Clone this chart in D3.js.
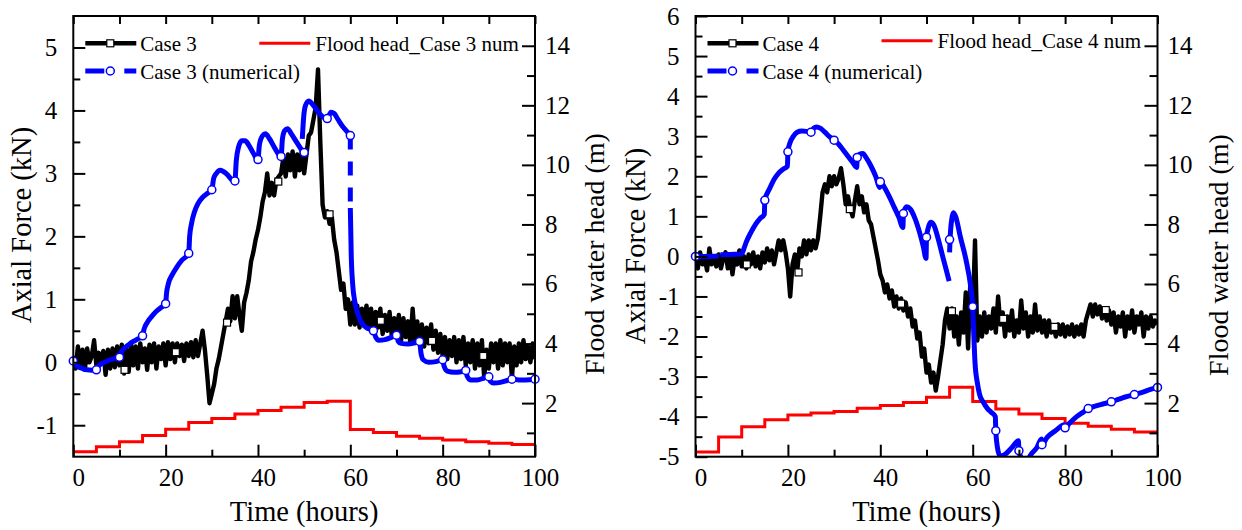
<!DOCTYPE html>
<html>
<head>
<meta charset="utf-8">
<script src="https://d3js.org/d3.v7.min.js"></script>
<style>
  body { margin: 0; background: #fff; }
  text { font-family: "Liberation Serif", "Times New Roman", serif; fill: #000; }
</style>
</head>
<body>
<svg width="1242" height="530"></svg>
<script>
// ---------- values ----------
var timeMajor = [0, 20, 40, 60, 80, 100],
    timeMinor = [10, 30, 50, 70, 90],
    headMajor = [2, 4, 6, 8, 10, 12, 14],
    headMinor = [1, 3, 5, 7, 9, 11, 13],
    force3Major = [-1, 0, 1, 2, 3, 4, 5],
    force3Minor = [-0.5, 0.5, 1.5, 2.5, 3.5, 4.5],
    force4Major = [-5, -4, -3, -2, -1, 0, 1, 2, 3, 4, 5, 6],
    force4Minor = [-4.5, -3.5, -2.5, -1.5, -0.5, 0.5, 1.5, 2.5, 3.5, 4.5, 5.5];

// flood water head (m), stepped every 5 hours
var floodTimes = [0, 5, 10, 15, 20, 25, 30, 35, 40, 45, 50, 55, 60, 65, 70, 75, 80, 85, 90, 95, 100];
var flood3 = [0.37, 0.53, 0.70, 0.91, 1.12, 1.35, 1.48, 1.63, 1.75, 1.86, 2.02, 2.06,
              1.11, 1.01, 0.89, 0.82, 0.76, 0.70, 0.65, 0.61, 0.61];
var flood4 = [0.36, 0.86, 1.21, 1.44, 1.60, 1.67, 1.72, 1.83, 1.92, 2.02, 2.20, 2.53,
              2.05, 1.80, 1.63, 1.48, 1.32, 1.22, 1.12, 1.03, 1.03];

// measured axial force (kN), one reading every half hour from 0 to 100 h
var expStep = 0.5;
var case3 = [
  0.1, -0.1, 0.25, -0.05, 0.2, -0.12, 0.22, 0.0, 0.1, 0.35,
  -0.05, 0.15, 0.0, 0.18, -0.2, 0.2, -0.1, 0.22, -0.08, 0.25,
  -0.05, 0.28, -0.18, 0.2, -0.15, 0.3, -0.05, 0.25, -0.1, 0.3,
  0.0, 0.22, -0.12, 0.28, 0.0, 0.3, -0.1, 0.25, 0.05, 0.3,
  -0.05, 0.32, 0.05, 0.3, 0.0, 0.3, 0.1, 0.28, 0.02, 0.3,
  0.1, 0.32, 0.08, 0.35, 0.1, 0.3, 0.5, 0.2, -0.2, -0.65,
  -0.5, -0.35, -0.1, 0.05, 0.25, 0.45, 0.65, 0.85, 0.65, 1.05,
  0.7, 1.05, 0.75, 0.5, 0.95, 1.1, 1.3, 1.6, 1.75, 1.95,
  2.1, 2.3, 2.55, 2.7, 3.0, 2.65, 2.85, 2.65, 2.9, 2.95,
  3.0, 3.25, 2.95, 3.3, 3.05, 3.35, 2.95, 3.3, 3.05, 3.35,
  3.0, 3.3, 3.6, 3.65, 3.85, 4.05, 4.65, 3.5, 2.5, 2.3,
  2.4, 2.2, 2.3, 1.95, 1.75, 1.45, 1.15, 1.25, 0.85, 1.0,
  0.6, 0.95, 0.6, 0.9, 0.55, 0.85, 0.6, 0.9, 0.55, 0.85,
  0.5, 0.8, 0.55, 0.85, 0.45, 0.75, 0.5, 0.8, 0.4, 0.7,
  0.45, 0.75, 0.35, 0.7, 0.4, 0.65, 0.3, 0.85, 0.35, 0.65,
  0.3, 0.6, 0.25, 0.55, 0.3, 0.6, 0.2, 0.5, 0.15, 0.45,
  0.1, 0.4, 0.05, 0.35, 0.1, 0.4, 0.0, 0.35, 0.05, 0.4,
  -0.05, 0.3, 0.0, 0.35, -0.1, 0.3, -0.05, 0.35, -0.25, 0.2,
  -0.1, 0.3, 0.0, 0.3, -0.1, 0.35, -0.05, 0.3, 0.0, 0.3,
  -0.25, 0.25, -0.05, 0.3, 0.0, 0.35, 0.05, 0.25, 0.0, 0.3,
  0.05
];
var case4 = [
  0.0, -0.3, 0.1, -0.2, -0.05, -0.35, 0.2, -0.2, 0.0, -0.25,
  0.05, -0.3, -0.05, 0.1, -0.3, 0.05, -0.45, 0.0, -0.2, 0.15,
  -0.25, 0.0, -0.3, 0.05, -0.2, 0.1, -0.25, 0.0, -0.3, 0.1,
  -0.15, 0.2, -0.1, 0.15, -0.2, 0.1, 0.4, 0.15, 0.4, 0.1,
  -0.3, -1.0, -0.2, 0.05, -0.4, 0.2, 0.0, 0.4, 0.05, 0.4,
  0.15, 0.4, 0.2, 0.45, 1.0, 1.6, 1.8, 1.6, 2.0, 1.75,
  2.0, 1.8, 1.95, 2.2, 1.8, 1.3, 1.5, 1.2, 1.0, 1.4,
  1.75, 1.3, 1.5, 1.1, 1.3, 0.9, 0.8, 0.5, 0.2, -0.1,
  -0.45, -0.6, -0.9, -0.7, -1.05, -0.85, -1.25, -1.0, -1.3, -1.05,
  -1.35, -1.15, -1.5, -1.3, -1.75, -1.6, -2.05, -1.9, -2.5, -2.3,
  -2.9, -2.7, -3.15, -2.9, -3.35, -3.0, -2.6, -2.2, -1.6, -1.3,
  -1.8, -1.3, -2.0, -1.5, -2.2, -1.4, -1.9, -0.9, -2.3, -0.6,
  -1.5, 0.4, -2.1, -1.5, -2.0, -1.4, -1.9, -1.5, -1.8, -1.3,
  -1.9, -1.0, -1.7, -1.4, -2.0, -1.5, -1.85, -1.35, -2.0, -1.6,
  -1.9, -1.1, -1.8, -1.4, -2.0, -1.5, -1.9, -1.2, -1.85, -1.5,
  -1.9, -1.6, -2.0, -1.6, -1.9, -1.75, -2.0, -1.7, -1.95, -1.7,
  -2.0, -1.75, -1.95, -1.7, -2.0, -1.75, -1.95, -1.7, -2.0, -1.6,
  -1.4, -1.2, -1.5, -1.2, -1.45, -1.25, -1.55, -1.3, -1.6, -1.35,
  -1.7, -1.4, -1.9, -1.5, -1.75, -1.4, -2.0, -1.5, -1.8, -1.35,
  -1.9, -1.5, -1.7, -1.4, -2.0, -1.5, -1.8, -1.5, -1.75, -1.6,
  -1.7
];
var case3Marks = [[11.1, -0.12], [22.2, 0.16], [33.3, 0.63], [44.4, 2.87], [55.5, 2.35], [66.6, 0.66], [77.7, 0.34], [88.8, 0.1]];
var case4Marks = [[11.1, -0.2], [22.3, -0.4], [33.4, 1.18], [44.5, -1.18], [55.5, -1.37], [66.6, -1.56], [77.7, -1.76], [88.8, -1.34]];

// numerical axial force (kN); null = break in the curve
var num3 = [
  [0, 0.0], [1, -0.07], [2, -0.1], [3, -0.12], [4, -0.125], [5, -0.12],
  [5.5, -0.06], [6.5, -0.01], [8, 0.04], [9.5, 0.07], [10, 0.08],
  [10.3, 0.15], [11, 0.22], [12, 0.28], [13, 0.33], [14, 0.37], [15, 0.42],
  [15.3, 0.52], [16, 0.63], [17, 0.73], [18, 0.81], [19, 0.87], [20, 0.93],
  [20.2, 1.1], [20.6, 1.25], [21.5, 1.4], [22.5, 1.52], [23.5, 1.62], [25, 1.73],
  [25.2, 2.0], [25.6, 2.2], [26.3, 2.4], [27, 2.52], [28, 2.62], [29, 2.68], [30, 2.74],
  [30.4, 2.92], [31, 3.0], [31.8, 3.05], [32.5, 3.03], [33.5, 2.97], [34.3, 2.9], [35, 2.88],
  [35.3, 3.2], [35.8, 3.42], [36.5, 3.52], [37.2, 3.52], [38, 3.45], [39, 3.32], [40, 3.22],
  [40.3, 3.45], [41, 3.6], [41.6, 3.63], [42.5, 3.55], [43.5, 3.42], [44.5, 3.3], [45, 3.27],
  [45.3, 3.55], [45.8, 3.68], [46.4, 3.71], [47.3, 3.62], [48.5, 3.48], [49.5, 3.37], [50, 3.33],
  null,
  [49.6, 3.55], [49.9, 3.9], [50.3, 4.08], [51, 4.15], [52, 4.08], [53, 3.98], [54, 3.9], [55, 3.87],
  [55.8, 3.97], [56.5, 3.95], [57.3, 3.86], [58.3, 3.75], [59.2, 3.67], [60, 3.6],
  null,
  [60, 2.45], [60.2, 1.7], [60.5, 1.25], [61, 0.95], [61.7, 0.75], [62.5, 0.62], [63.5, 0.55], [65, 0.5],
  [65.5, 0.4], [66.2, 0.35], [67.5, 0.36], [69, 0.4], [70, 0.43],
  [70.4, 0.33], [71, 0.3], [72.5, 0.29], [74, 0.31], [75, 0.33],
  [75.3, 0.15], [75.8, 0.04], [77, 0.0], [78.5, 0.01], [80, 0.04],
  [80.3, -0.06], [81, -0.14], [82.5, -0.16], [84, -0.15], [85, -0.13],
  [85.3, -0.22], [86, -0.28], [87.5, -0.28], [89, -0.25], [90, -0.23],
  [90.3, -0.3], [91, -0.33], [92.5, -0.32], [94, -0.29], [95, -0.27],
  [96.5, -0.28], [98, -0.28], [100, -0.27]
];
var num3Drop = [[60, 3.6], [60, 2.45]];
var num3Marks = [[0, 0.02], [5, -0.12], [10, 0.08], [15, 0.42], [20, 0.93], [25, 1.73], [30, 2.74],
  [35, 2.88], [40, 3.22], [45, 3.27], [50, 3.33], [55, 3.87], [60, 3.6], [65, 0.5], [70, 0.43],
  [75, 0.33], [80, 0.04], [85, -0.13], [90, -0.23], [95, -0.27], [100, -0.27]];

var num4 = [
  [0, 0], [2.5, 0], [5, 0.01], null, [5.4, 0.04], [7.5, 0.05], [10, 0.06],
  [10.5, 0.2], [11, 0.36], [12, 0.6], [13, 0.8], [14, 0.95], [14.9, 1.05],
  [15, 1.4], [16, 1.68], [17, 1.92], [18, 2.08], [19, 2.18], [19.9, 2.25],
  [20, 2.61], [20.5, 2.85], [21.2, 3.0], [22, 3.1], [23, 3.13], [24, 3.12], [25, 3.1],
  [25.6, 3.2], [26.2, 3.23], [27, 3.2], [28, 3.1], [29, 2.99], [30, 2.9],
  [31, 2.8], [32, 2.65], [33, 2.5], [34, 2.35], [34.9, 2.22],
  [35, 2.47], [35.5, 2.55], [36.2, 2.57], [37, 2.45], [38, 2.25], [39, 2.0], [39.9, 1.72],
  [40, 1.86], [40.5, 1.8], [41, 1.7], [42, 1.48], [43, 1.23], [44, 0.98], [44.9, 0.72],
  [45, 1.07], [45.7, 1.24], [46.5, 1.18], [47.5, 0.95], [48.5, 0.6], [49.3, 0.25], [49.9, -0.05],
  [50, 0.48], [50.4, 0.72], [50.9, 0.85], [51.6, 0.78], [52.5, 0.45], [53.5, 0.0], [54.3, -0.35], [54.9, -0.62],
  null,
  [55, 0.1], [55.1, 0.42], [55.5, 0.95], [55.8, 1.09], [56.3, 1.0], [57.3, 0.5], [58.7, -0.17], [59.5, -0.7], [60, -1.26],
  [60.2, -1.85], [60.5, -2.65], [61, -3.15], [61.5, -3.45], [62.3, -3.64], [63.2, -3.8], [64, -3.89], [64.9, -4.0],
  [65, -4.35], [65.4, -4.8], [65.9, -4.98], [67, -4.94], [68.5, -4.77], [69.9, -4.6],
  [70, -4.85], [70.6, -5.05], [71.5, -5.2], [72.4, -4.98], [73.9, -4.77], [74.9, -4.56],
  [75, -4.7], [76.1, -4.52], [77.9, -4.35], [79.9, -4.2],
  [80, -4.28], [81, -4.16], [82.5, -4.0], [84, -3.88], [85, -3.8],
  [86.5, -3.74], [88, -3.69], [90, -3.63], [91.5, -3.57], [93, -3.51], [95, -3.45],
  [96.5, -3.4], [98, -3.34], [100, -3.27]
];
var num4Marks = [[0, 0], [15, 1.4], [20, 2.61], [25, 3.1], [30, 2.9], [35, 2.47], [40, 1.86],
  [45, 1.07], [50, 0.48], [55, 0.42], [60, -1.26], [65, -4.35], [70, -4.85], [75, -4.7],
  [80, -4.28], [85, -3.8], [90, -3.63], [95, -3.45], [100, -3.27]];

// ---------- drawing ----------
var svg = d3.select("svg"),
    plotTop = 16,
    plotBottom = 456.7,
    headDomain = [0.2, 15],
    fontFam = '"Liberation Serif", "Times New Roman", serif';

function styleAxis(g) {
  g.select(".domain").remove();
  g.attr("font-family", fontFam).attr("font-size", 25);
  g.selectAll("line").attr("stroke-width", 2);
}

function panel(p) {
  var x = d3.scaleLinear().domain([0, 100]).range([p.left, p.right]),
      y = d3.scaleLinear().domain(p.forceDomain).range([plotBottom, plotTop]),
      yh = d3.scaleLinear().domain(headDomain).range([plotBottom, plotTop]);

  var g = svg.append("g");

  g.append("clipPath").attr("id", "clip" + p.id)
    .append("rect")
      .attr("x", p.left).attr("y", plotTop)
      .attr("width", p.right - p.left).attr("height", plotBottom - plotTop);

  var plot = g.append("g").attr("clip-path", "url(#clip" + p.id + ")");

  // flood head on the right axis
  plot.append("path")
      .datum(floodTimes.map(function(t, i) { return [t, p.flood[i]]; }))
      .attr("d", d3.line().curve(d3.curveStepAfter)
        .x(function(d) { return x(d[0]); })
        .y(function(d) { return yh(d[1]); }))
      .style("fill", "none")
      .style("stroke", "#ff0000")
      .style("stroke-width", "3px");

  // measured force
  plot.append("path")
      .datum(p.exp.map(function(v, i) { return [i * expStep, v]; }))
      .attr("d", d3.line()
        .x(function(d) { return x(d[0]); })
        .y(function(d) { return y(d[1]); }))
      .style("fill", "none")
      .style("stroke", "#000")
      .style("stroke-width", "4.4px")
      .style("stroke-linejoin", "round");

  // numerical force
  var numLine = d3.line()
      .defined(function(d) { return d !== null; })
      .curve(d3.curveMonotoneX)
      .x(function(d) { return x(d[0]); })
      .y(function(d) { return y(d[1]); });

  plot.append("path")
      .datum(p.num)
      .attr("d", numLine)
      .style("fill", "none")
      .style("stroke", "#0000ff")
      .style("stroke-width", "5px");

  if (p.numDrop) {
    plot.append("path")
        .datum(p.numDrop)
        .attr("d", d3.line()
          .x(function(d) { return x(d[0]); })
          .y(function(d) { return y(d[1]); }))
        .style("fill", "none")
        .style("stroke", "#0000ff")
        .style("stroke-width", "5px")
        .style("stroke-dasharray", "14,12");
  }

  g.selectAll(".sq")
    .data(p.expMarks)
    .enter().append("rect")
      .attr("x", function(d) { return x(d[0]) - 3.5; })
      .attr("y", function(d) { return y(d[1]) - 3.5; })
      .attr("width", 7).attr("height", 7)
      .style("fill", "#fff").style("stroke", "#000").style("stroke-width", "1.2px");

  g.selectAll(".dot")
    .data(p.numMarks)
    .enter().append("circle")
      .attr("cx", function(d) { return x(d[0]); })
      .attr("cy", function(d) { return y(d[1]); })
      .attr("r", 4)
      .style("fill", "#fff").style("stroke", "#0000ff").style("stroke-width", "1.5px");

  // frame
  g.append("rect")
      .attr("x", p.left).attr("y", plotTop)
      .attr("width", p.right - p.left).attr("height", plotBottom - plotTop)
      .style("fill", "none").style("stroke", "#000").style("stroke-width", "2px");

  // axes, ticks pointing inward
  g.append("g")
      .attr("transform", "translate(0," + plotBottom + ")")
      .call(d3.axisBottom(x).tickValues(timeMajor).tickSize(-12).tickPadding(12)
        .tickFormat(function(d) { return String(d); }))
      .call(styleAxis)
      .selectAll("text").attr("dx", 5);
  g.append("g")
      .attr("transform", "translate(0," + plotBottom + ")")
      .call(d3.axisBottom(x).tickValues(timeMinor).tickSize(-7).tickFormat(""))
      .call(styleAxis);
  g.append("g")
      .attr("transform", "translate(0," + plotTop + ")")
      .call(d3.axisTop(x).tickValues(timeMajor.concat(timeMinor)).tickSize(-8).tickFormat(""))
      .call(styleAxis);

  g.append("g")
      .attr("transform", "translate(" + p.left + ",0)")
      .call(d3.axisLeft(y).tickValues(p.forceMajor).tickSize(-12).tickPadding(16)
        .tickFormat(function(d) { return String(d); }))
      .call(styleAxis);
  g.append("g")
      .attr("transform", "translate(" + p.left + ",0)")
      .call(d3.axisLeft(y).tickValues(p.forceMinor).tickSize(-7).tickFormat(""))
      .call(styleAxis);

  g.append("g")
      .attr("transform", "translate(" + p.right + ",0)")
      .call(d3.axisRight(yh).tickValues(headMajor).tickSize(-13).tickPadding(10)
        .tickFormat(function(d) { return String(d); }))
      .call(styleAxis);
  g.append("g")
      .attr("transform", "translate(" + p.right + ",0)")
      .call(d3.axisRight(yh).tickValues(headMinor).tickSize(-8).tickFormat(""))
      .call(styleAxis);

  // axis titles
  g.append("text")
      .attr("x", (p.left + p.right) / 2).attr("y", 521)
      .attr("text-anchor", "middle")
      .style("font-size", "28.5px")
      .text("Time (hours)");
  g.append("text")
      .attr("transform", "translate(" + p.forceTitle[0] + "," + p.forceTitle[1] + ") rotate(-90)")
      .attr("text-anchor", "middle")
      .style("font-size", "28.5px")
      .text("Axial Force (kN)");
  g.append("text")
      .attr("transform", "translate(" + p.headTitle[0] + "," + p.headTitle[1] + ") rotate(-90)")
      .attr("text-anchor", "middle")
      .style("font-size", "28px")
      .text("Flood water head (m)");

  // legend
  var L = p.left, leg = g.append("g").style("font-size", "21px");
  leg.append("line")
      .attr("x1", L + 12).attr("x2", L + 63).attr("y1", 43.3).attr("y2", 43.3)
      .style("stroke", "#000").style("stroke-width", "4.4px");
  leg.append("rect")
      .attr("x", L + 37 - 3.5).attr("y", 43.3 - 3.5).attr("width", 7).attr("height", 7)
      .style("fill", "#fff").style("stroke", "#000").style("stroke-width", "1.2px");
  leg.append("text").attr("x", L + 67).attr("y", 51).text(p.names[0]);

  leg.append("line")
      .attr("x1", L + 12).attr("x2", L + 31).attr("y1", 71).attr("y2", 71)
      .style("stroke", "#0000ff").style("stroke-width", "5px");
  leg.append("line")
      .attr("x1", L + 51).attr("x2", L + 63).attr("y1", 71).attr("y2", 71)
      .style("stroke", "#0000ff").style("stroke-width", "5px");
  leg.append("circle")
      .attr("cx", L + 37).attr("cy", 71).attr("r", 4)
      .style("fill", "#fff").style("stroke", "#0000ff").style("stroke-width", "1.5px");
  leg.append("text").attr("x", L + 67).attr("y", 79).text(p.names[1]);

  leg.append("line")
      .attr("x1", L + 186).attr("x2", L + 237).attr("y1", p.redY).attr("y2", p.redY)
      .style("stroke", "#ff0000").style("stroke-width", "3px");
  leg.append("text").attr("x", L + 242).attr("y", p.redY + 7.5).text(p.names[2]);
}

panel({
  id: 3, left: 73.3, right: 535,
  forceDomain: [-1.5, 5.5], forceMajor: force3Major, forceMinor: force3Minor,
  flood: flood3, exp: case3, expMarks: case3Marks,
  num: num3, numDrop: num3Drop, numMarks: num3Marks,
  forceTitle: [31, 225], headTitle: [604, 254], redY: 43.3,
  names: ["Case 3", "Case 3 (numerical)", "Flood head_Case 3 num"]
});

panel({
  id: 4, left: 695.5, right: 1157.5,
  forceDomain: [-5, 6], forceMajor: force4Major, forceMinor: force4Minor,
  flood: flood4, exp: case4, expMarks: case4Marks,
  num: num4, numDrop: null, numMarks: num4Marks,
  forceTitle: [645, 246], headTitle: [1228, 255], redY: 40.7,
  names: ["Case 4", "Case 4 (numerical)", "Flood head_Case 4 num"]
});
</script>
</body>
</html>
